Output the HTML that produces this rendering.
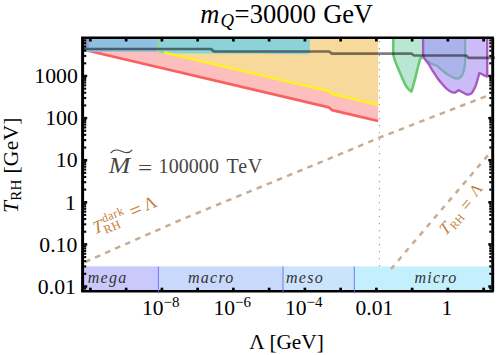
<!DOCTYPE html>
<html><head><meta charset="utf-8"><style>html,body{margin:0;padding:0;background:#fff}svg{display:block}</style></head><body><svg width="498" height="355" viewBox="0 0 498 355">
<rect width="498" height="355" fill="#fff"/>
<defs><clipPath id="c"><rect x="82.60" y="37.75" width="410.00" height="253.55"/></clipPath></defs>
<g clip-path="url(#c)">
<polygon points="85.0,50.0 329.0,107.4 332.0,110.1 378.1,121.0 378.1,39 85,39" fill="#fdbebe"/>
<polygon points="158.5,39 158.5,52 164.0,52.4 329.0,91.3 332.0,94.0 378.1,105.0 378.1,39" fill="#f6d99b"/>
<path d="M158.5,38 L158.5,52.6 L165,53.2 L250,53.8 L307.5,54.2 Q309.9,54.2 309.9,51.8 L309.9,38 Z" fill="#8dd2d6"/>
<path d="M158.5,38 L158.5,48.5 Q158.7,51.8 164.5,52.6" fill="none" stroke="#8dd6a2" stroke-width="2.4"/>
<polyline points="85.0,50.0 329.0,107.4 332.0,110.1 378.1,121.0" fill="none" stroke="#fb6060" stroke-width="2.7" stroke-linejoin="round"/>
<polyline points="164.0,52.4 329.0,91.3 332.0,94.0 378.1,105.0" fill="none" stroke="#fff02a" stroke-width="2.6" stroke-linejoin="round"/>
<rect x="84" y="39" width="73.4" height="12.8" fill="#8fc0e0"/>
<rect x="85" y="39" width="3.8" height="9.5" fill="#9c9cc4"/>
<path d="M393.3,38 L393.3,54.5 C393.47,55.17 393.82,56.95 394.30,58.50 C394.78,60.05 395.47,61.92 396.20,63.80 C396.93,65.68 397.30,66.55 398.70,69.80 C400.10,73.05 402.95,80.05 404.60,83.30 C406.25,86.55 407.47,87.92 408.60,89.30 C409.73,90.68 410.93,91.22 411.40,91.60 C411.67,90.72 412.30,88.80 413.00,86.30 C413.70,83.80 414.47,81.00 415.60,76.60 C416.73,72.20 418.87,63.07 419.80,59.90 C420.73,56.73 420.63,57.88 421.20,57.60 C421.77,57.32 422.87,58.10 423.20,58.20 L423.2,38 Z" fill="#b9e7d4"/>
<path d="M423.1,38 L423.1,55 C423.33,55.58 423.65,57.10 424.50,58.50 C425.35,59.90 426.88,61.42 428.20,63.40 C429.52,65.38 431.22,68.53 432.40,70.40 C433.58,72.27 434.32,73.13 435.30,74.60 C436.28,76.07 437.12,77.60 438.30,79.20 C439.48,80.80 441.12,82.70 442.40,84.20 C443.68,85.70 444.72,87.02 446.00,88.20 C447.28,89.38 448.85,90.57 450.10,91.30 C451.35,92.03 452.52,92.47 453.50,92.60 C454.48,92.73 455.15,92.50 456.00,92.10 C456.85,91.70 457.83,90.35 458.60,90.20 C459.37,90.05 459.87,90.82 460.60,91.20 C461.33,91.58 462.10,92.00 463.00,92.50 C463.90,93.00 465.07,93.85 466.00,94.20 C466.93,94.55 467.77,94.70 468.60,94.60 C469.43,94.50 470.30,94.10 471.00,93.60 C471.70,93.10 472.02,92.92 472.80,91.60 C473.58,90.28 474.80,88.10 475.70,85.70 C476.60,83.30 477.58,79.32 478.20,77.20 C478.82,75.08 479.20,73.70 479.40,73.00 L486.9,76.6 L487.2,74 L487.2,38 Z" fill="#cbbcf7"/>
<path d="M424.5,58.5 C425.02,58.97 426.48,60.45 427.60,61.30 C428.72,62.15 429.75,62.90 431.20,63.60 C432.65,64.30 434.60,64.47 436.30,65.50 C438.00,66.53 439.55,68.32 441.40,69.80 C443.25,71.28 445.38,73.07 447.40,74.40 C449.42,75.73 451.82,77.08 453.50,77.80 C455.18,78.52 456.38,78.77 457.50,78.70 C458.62,78.63 459.35,78.15 460.20,77.40 C461.05,76.65 461.93,75.60 462.60,74.20 C463.27,72.80 463.80,70.78 464.20,69.00 C464.60,67.22 464.85,65.33 465.00,63.50 C465.15,61.67 465.08,58.92 465.10,58.00 L465.1,38 L423.1,38 L423.1,55 Z" fill="#aab3ea"/>
<path d="M393.3,38 L393.3,54.5 C393.47,55.17 393.82,56.95 394.30,58.50 C394.78,60.05 395.47,61.92 396.20,63.80 C396.93,65.68 397.30,66.55 398.70,69.80 C400.10,73.05 402.95,80.05 404.60,83.30 C406.25,86.55 407.47,87.92 408.60,89.30 C409.73,90.68 410.93,91.22 411.40,91.60 C411.67,90.72 412.30,88.80 413.00,86.30 C413.70,83.80 414.47,81.00 415.60,76.60 C416.73,72.20 418.87,63.07 419.80,59.90 C420.73,56.73 420.63,57.88 421.20,57.60 C421.77,57.32 422.87,58.10 423.20,58.20" fill="none" stroke="#68ca70" stroke-width="2.6" stroke-linejoin="round"/>
<path d="M424.5,58.5 C425.02,58.97 426.48,60.45 427.60,61.30 C428.72,62.15 429.75,62.90 431.20,63.60 C432.65,64.30 434.60,64.47 436.30,65.50 C438.00,66.53 439.55,68.32 441.40,69.80 C443.25,71.28 445.38,73.07 447.40,74.40 C449.42,75.73 451.82,77.08 453.50,77.80 C455.18,78.52 456.38,78.77 457.50,78.70 C458.62,78.63 459.35,78.15 460.20,77.40 C461.05,76.65 461.93,75.60 462.60,74.20 C463.27,72.80 463.80,70.78 464.20,69.00 C464.60,67.22 464.85,65.33 465.00,63.50 C465.15,61.67 465.08,58.92 465.10,58.00 L465.1,38" fill="none" stroke="#80a9b8" stroke-width="2.3" stroke-linejoin="round"/>
<path d="M423.1,38 L423.1,55 C423.33,55.58 423.65,57.10 424.50,58.50 C425.35,59.90 426.88,61.42 428.20,63.40 C429.52,65.38 431.22,68.53 432.40,70.40 C433.58,72.27 434.32,73.13 435.30,74.60 C436.28,76.07 437.12,77.60 438.30,79.20 C439.48,80.80 441.12,82.70 442.40,84.20 C443.68,85.70 444.72,87.02 446.00,88.20 C447.28,89.38 448.85,90.57 450.10,91.30 C451.35,92.03 452.52,92.47 453.50,92.60 C454.48,92.73 455.15,92.50 456.00,92.10 C456.85,91.70 457.83,90.35 458.60,90.20 C459.37,90.05 459.87,90.82 460.60,91.20 C461.33,91.58 462.10,92.00 463.00,92.50 C463.90,93.00 465.07,93.85 466.00,94.20 C466.93,94.55 467.77,94.70 468.60,94.60 C469.43,94.50 470.30,94.10 471.00,93.60 C471.70,93.10 472.02,92.92 472.80,91.60 C473.58,90.28 474.80,88.10 475.70,85.70 C476.60,83.30 477.58,79.32 478.20,77.20 C478.82,75.08 479.20,73.70 479.40,73.00 L486.9,76.6 L487.2,74 L487.2,38" fill="none" stroke="#a85ac0" stroke-width="2.4" stroke-linejoin="round"/>
<rect x="84" y="266.4" width="74.4" height="24.6" fill="#c9c9fb"/>
<rect x="158.4" y="266.4" width="124.6" height="24.6" fill="#c9d9fb"/>
<rect x="283" y="266.4" width="71.3" height="24.6" fill="#cbe3fd"/>
<rect x="354.3" y="266.4" width="138" height="24.6" fill="#c4effc"/>
<line x1="379.4" y1="41.1" x2="379.4" y2="266.4" stroke="#707070" stroke-width="0.85" stroke-dasharray="1.1 5.9"/>
<polyline points="85.0,262.0 177.0,221.5 340.0,154.2 380.0,137.4 489.0,95.1 493.0,93.6" fill="none" stroke="#c8ac92" stroke-width="2.5" stroke-dasharray="5.6 5.38"/>
<polyline points="391,269 492.5,149.9" fill="none" stroke="#c8ac92" stroke-width="2.5" stroke-dasharray="5.2 5.9" stroke-dashoffset="0.2"/>
</g>
<polyline points="84.0,49.0 211.0,49.0 214.0,51.5 329.0,51.5 332.0,53.7 411.5,53.7 414.0,55.5 466.0,55.5 468.5,57.8 495.0,57.8" fill="none" stroke="#000" stroke-opacity="0.5" stroke-width="2.7" stroke-linejoin="round"/>
<g stroke="#000" fill="none">
<line x1="81.10" y1="37.75" x2="493.80" y2="37.75" stroke-width="2.6"/>
<line x1="81.10" y1="291.30" x2="493.80" y2="291.30" stroke-width="2.6"/>
<line x1="82.60" y1="37.75" x2="82.60" y2="291.30" stroke-width="3"/>
<line x1="492.70" y1="37.75" x2="492.70" y2="291.30" stroke-width="2.9"/>
<line x1="90.40" y1="290.00" x2="90.40" y2="287.70" stroke-width="2.7"/>
<line x1="90.40" y1="39.00" x2="90.40" y2="41.50" stroke-width="2.7"/>
<line x1="126.15" y1="290.00" x2="126.15" y2="287.70" stroke-width="2.7"/>
<line x1="126.15" y1="39.00" x2="126.15" y2="41.50" stroke-width="2.7"/>
<line x1="161.90" y1="290.00" x2="161.90" y2="287.70" stroke-width="2.7"/>
<line x1="161.90" y1="39.00" x2="161.90" y2="41.50" stroke-width="2.7"/>
<line x1="197.65" y1="290.00" x2="197.65" y2="287.70" stroke-width="2.7"/>
<line x1="197.65" y1="39.00" x2="197.65" y2="41.50" stroke-width="2.7"/>
<line x1="233.40" y1="290.00" x2="233.40" y2="287.70" stroke-width="2.7"/>
<line x1="233.40" y1="39.00" x2="233.40" y2="41.50" stroke-width="2.7"/>
<line x1="269.15" y1="290.00" x2="269.15" y2="287.70" stroke-width="2.7"/>
<line x1="269.15" y1="39.00" x2="269.15" y2="41.50" stroke-width="2.7"/>
<line x1="304.90" y1="290.00" x2="304.90" y2="287.70" stroke-width="2.7"/>
<line x1="304.90" y1="39.00" x2="304.90" y2="41.50" stroke-width="2.7"/>
<line x1="340.65" y1="290.00" x2="340.65" y2="287.70" stroke-width="2.7"/>
<line x1="340.65" y1="39.00" x2="340.65" y2="41.50" stroke-width="2.7"/>
<line x1="376.40" y1="290.00" x2="376.40" y2="287.70" stroke-width="2.7"/>
<line x1="376.40" y1="39.00" x2="376.40" y2="41.50" stroke-width="2.7"/>
<line x1="412.15" y1="290.00" x2="412.15" y2="287.70" stroke-width="2.7"/>
<line x1="412.15" y1="39.00" x2="412.15" y2="41.50" stroke-width="2.7"/>
<line x1="447.90" y1="290.00" x2="447.90" y2="287.70" stroke-width="2.7"/>
<line x1="447.90" y1="39.00" x2="447.90" y2="41.50" stroke-width="2.7"/>
<line x1="483.65" y1="290.00" x2="483.65" y2="287.70" stroke-width="2.7"/>
<line x1="483.65" y1="39.00" x2="483.65" y2="41.50" stroke-width="2.7"/>
<line x1="84.10" y1="286.50" x2="87.20" y2="286.50" stroke-width="2.5"/>
<line x1="491.40" y1="286.50" x2="488.30" y2="286.50" stroke-width="2.5"/>
<line x1="84.10" y1="244.40" x2="87.20" y2="244.40" stroke-width="2.5"/>
<line x1="491.40" y1="244.40" x2="488.30" y2="244.40" stroke-width="2.5"/>
<line x1="84.10" y1="202.30" x2="87.20" y2="202.30" stroke-width="2.5"/>
<line x1="491.40" y1="202.30" x2="488.30" y2="202.30" stroke-width="2.5"/>
<line x1="84.10" y1="160.20" x2="87.20" y2="160.20" stroke-width="2.5"/>
<line x1="491.40" y1="160.20" x2="488.30" y2="160.20" stroke-width="2.5"/>
<line x1="84.10" y1="118.10" x2="87.20" y2="118.10" stroke-width="2.5"/>
<line x1="491.40" y1="118.10" x2="488.30" y2="118.10" stroke-width="2.5"/>
<line x1="84.10" y1="76.00" x2="87.20" y2="76.00" stroke-width="2.5"/>
<line x1="491.40" y1="76.00" x2="488.30" y2="76.00" stroke-width="2.5"/>
<line x1="84.10" y1="288.43" x2="86.20" y2="288.43" stroke-width="2.1"/>
<line x1="491.40" y1="288.43" x2="489.30" y2="288.43" stroke-width="2.1"/>
<line x1="84.10" y1="273.83" x2="86.20" y2="273.83" stroke-width="2.1"/>
<line x1="491.40" y1="273.83" x2="489.30" y2="273.83" stroke-width="2.1"/>
<line x1="84.10" y1="266.41" x2="86.20" y2="266.41" stroke-width="2.1"/>
<line x1="491.40" y1="266.41" x2="489.30" y2="266.41" stroke-width="2.1"/>
<line x1="84.10" y1="261.15" x2="86.20" y2="261.15" stroke-width="2.1"/>
<line x1="491.40" y1="261.15" x2="489.30" y2="261.15" stroke-width="2.1"/>
<line x1="84.10" y1="257.07" x2="86.20" y2="257.07" stroke-width="2.1"/>
<line x1="491.40" y1="257.07" x2="489.30" y2="257.07" stroke-width="2.1"/>
<line x1="84.10" y1="253.74" x2="86.20" y2="253.74" stroke-width="2.1"/>
<line x1="491.40" y1="253.74" x2="489.30" y2="253.74" stroke-width="2.1"/>
<line x1="84.10" y1="250.92" x2="86.20" y2="250.92" stroke-width="2.1"/>
<line x1="491.40" y1="250.92" x2="489.30" y2="250.92" stroke-width="2.1"/>
<line x1="84.10" y1="248.48" x2="86.20" y2="248.48" stroke-width="2.1"/>
<line x1="491.40" y1="248.48" x2="489.30" y2="248.48" stroke-width="2.1"/>
<line x1="84.10" y1="246.33" x2="86.20" y2="246.33" stroke-width="2.1"/>
<line x1="491.40" y1="246.33" x2="489.30" y2="246.33" stroke-width="2.1"/>
<line x1="84.10" y1="231.73" x2="86.20" y2="231.73" stroke-width="2.1"/>
<line x1="491.40" y1="231.73" x2="489.30" y2="231.73" stroke-width="2.1"/>
<line x1="84.10" y1="224.31" x2="86.20" y2="224.31" stroke-width="2.1"/>
<line x1="491.40" y1="224.31" x2="489.30" y2="224.31" stroke-width="2.1"/>
<line x1="84.10" y1="219.05" x2="86.20" y2="219.05" stroke-width="2.1"/>
<line x1="491.40" y1="219.05" x2="489.30" y2="219.05" stroke-width="2.1"/>
<line x1="84.10" y1="214.97" x2="86.20" y2="214.97" stroke-width="2.1"/>
<line x1="491.40" y1="214.97" x2="489.30" y2="214.97" stroke-width="2.1"/>
<line x1="84.10" y1="211.64" x2="86.20" y2="211.64" stroke-width="2.1"/>
<line x1="491.40" y1="211.64" x2="489.30" y2="211.64" stroke-width="2.1"/>
<line x1="84.10" y1="208.82" x2="86.20" y2="208.82" stroke-width="2.1"/>
<line x1="491.40" y1="208.82" x2="489.30" y2="208.82" stroke-width="2.1"/>
<line x1="84.10" y1="206.38" x2="86.20" y2="206.38" stroke-width="2.1"/>
<line x1="491.40" y1="206.38" x2="489.30" y2="206.38" stroke-width="2.1"/>
<line x1="84.10" y1="204.23" x2="86.20" y2="204.23" stroke-width="2.1"/>
<line x1="491.40" y1="204.23" x2="489.30" y2="204.23" stroke-width="2.1"/>
<line x1="84.10" y1="189.63" x2="86.20" y2="189.63" stroke-width="2.1"/>
<line x1="491.40" y1="189.63" x2="489.30" y2="189.63" stroke-width="2.1"/>
<line x1="84.10" y1="182.21" x2="86.20" y2="182.21" stroke-width="2.1"/>
<line x1="491.40" y1="182.21" x2="489.30" y2="182.21" stroke-width="2.1"/>
<line x1="84.10" y1="176.95" x2="86.20" y2="176.95" stroke-width="2.1"/>
<line x1="491.40" y1="176.95" x2="489.30" y2="176.95" stroke-width="2.1"/>
<line x1="84.10" y1="172.87" x2="86.20" y2="172.87" stroke-width="2.1"/>
<line x1="491.40" y1="172.87" x2="489.30" y2="172.87" stroke-width="2.1"/>
<line x1="84.10" y1="169.54" x2="86.20" y2="169.54" stroke-width="2.1"/>
<line x1="491.40" y1="169.54" x2="489.30" y2="169.54" stroke-width="2.1"/>
<line x1="84.10" y1="166.72" x2="86.20" y2="166.72" stroke-width="2.1"/>
<line x1="491.40" y1="166.72" x2="489.30" y2="166.72" stroke-width="2.1"/>
<line x1="84.10" y1="164.28" x2="86.20" y2="164.28" stroke-width="2.1"/>
<line x1="491.40" y1="164.28" x2="489.30" y2="164.28" stroke-width="2.1"/>
<line x1="84.10" y1="162.13" x2="86.20" y2="162.13" stroke-width="2.1"/>
<line x1="491.40" y1="162.13" x2="489.30" y2="162.13" stroke-width="2.1"/>
<line x1="84.10" y1="147.53" x2="86.20" y2="147.53" stroke-width="2.1"/>
<line x1="491.40" y1="147.53" x2="489.30" y2="147.53" stroke-width="2.1"/>
<line x1="84.10" y1="140.11" x2="86.20" y2="140.11" stroke-width="2.1"/>
<line x1="491.40" y1="140.11" x2="489.30" y2="140.11" stroke-width="2.1"/>
<line x1="84.10" y1="134.85" x2="86.20" y2="134.85" stroke-width="2.1"/>
<line x1="491.40" y1="134.85" x2="489.30" y2="134.85" stroke-width="2.1"/>
<line x1="84.10" y1="130.77" x2="86.20" y2="130.77" stroke-width="2.1"/>
<line x1="491.40" y1="130.77" x2="489.30" y2="130.77" stroke-width="2.1"/>
<line x1="84.10" y1="127.44" x2="86.20" y2="127.44" stroke-width="2.1"/>
<line x1="491.40" y1="127.44" x2="489.30" y2="127.44" stroke-width="2.1"/>
<line x1="84.10" y1="124.62" x2="86.20" y2="124.62" stroke-width="2.1"/>
<line x1="491.40" y1="124.62" x2="489.30" y2="124.62" stroke-width="2.1"/>
<line x1="84.10" y1="122.18" x2="86.20" y2="122.18" stroke-width="2.1"/>
<line x1="491.40" y1="122.18" x2="489.30" y2="122.18" stroke-width="2.1"/>
<line x1="84.10" y1="120.03" x2="86.20" y2="120.03" stroke-width="2.1"/>
<line x1="491.40" y1="120.03" x2="489.30" y2="120.03" stroke-width="2.1"/>
<line x1="84.10" y1="105.43" x2="86.20" y2="105.43" stroke-width="2.1"/>
<line x1="491.40" y1="105.43" x2="489.30" y2="105.43" stroke-width="2.1"/>
<line x1="84.10" y1="98.01" x2="86.20" y2="98.01" stroke-width="2.1"/>
<line x1="491.40" y1="98.01" x2="489.30" y2="98.01" stroke-width="2.1"/>
<line x1="84.10" y1="92.75" x2="86.20" y2="92.75" stroke-width="2.1"/>
<line x1="491.40" y1="92.75" x2="489.30" y2="92.75" stroke-width="2.1"/>
<line x1="84.10" y1="88.67" x2="86.20" y2="88.67" stroke-width="2.1"/>
<line x1="491.40" y1="88.67" x2="489.30" y2="88.67" stroke-width="2.1"/>
<line x1="84.10" y1="85.34" x2="86.20" y2="85.34" stroke-width="2.1"/>
<line x1="491.40" y1="85.34" x2="489.30" y2="85.34" stroke-width="2.1"/>
<line x1="84.10" y1="82.52" x2="86.20" y2="82.52" stroke-width="2.1"/>
<line x1="491.40" y1="82.52" x2="489.30" y2="82.52" stroke-width="2.1"/>
<line x1="84.10" y1="80.08" x2="86.20" y2="80.08" stroke-width="2.1"/>
<line x1="491.40" y1="80.08" x2="489.30" y2="80.08" stroke-width="2.1"/>
<line x1="84.10" y1="77.93" x2="86.20" y2="77.93" stroke-width="2.1"/>
<line x1="491.40" y1="77.93" x2="489.30" y2="77.93" stroke-width="2.1"/>
<line x1="84.10" y1="63.33" x2="86.20" y2="63.33" stroke-width="2.1"/>
<line x1="491.40" y1="63.33" x2="489.30" y2="63.33" stroke-width="2.1"/>
<line x1="84.10" y1="55.91" x2="86.20" y2="55.91" stroke-width="2.1"/>
<line x1="491.40" y1="55.91" x2="489.30" y2="55.91" stroke-width="2.1"/>
<line x1="84.10" y1="50.65" x2="86.20" y2="50.65" stroke-width="2.1"/>
<line x1="491.40" y1="50.65" x2="489.30" y2="50.65" stroke-width="2.1"/>
<line x1="84.10" y1="46.57" x2="86.20" y2="46.57" stroke-width="2.1"/>
<line x1="491.40" y1="46.57" x2="489.30" y2="46.57" stroke-width="2.1"/>
<line x1="84.10" y1="43.24" x2="86.20" y2="43.24" stroke-width="2.1"/>
<line x1="491.40" y1="43.24" x2="489.30" y2="43.24" stroke-width="2.1"/>
<line x1="84.10" y1="40.42" x2="86.20" y2="40.42" stroke-width="2.1"/>
<line x1="491.40" y1="40.42" x2="489.30" y2="40.42" stroke-width="2.1"/>
</g>
<line x1="158.4" y1="266.4" x2="158.4" y2="293.3" stroke="#6b6bf0" stroke-width="0.9"/>
<line x1="283.0" y1="266.4" x2="283.0" y2="293.3" stroke="#6b6bf0" stroke-width="0.9"/>
<line x1="354.3" y1="266.4" x2="354.3" y2="293.3" stroke="#6b6bf0" stroke-width="0.9"/>
<g font-family="'Liberation Serif', serif" fill="#000">
<text x="200.3" y="22.6" font-size="26.5" font-style="italic">m</text>
<text x="220.5" y="27.2" font-size="18.8" font-style="italic">Q</text>
<text x="234.4" y="22.6" font-size="26.5" textLength="15" lengthAdjust="spacingAndGlyphs">=</text>
<text x="249.8" y="22.6" font-size="26.5" letter-spacing="0">30000</text>
<text x="323.3" y="22.6" font-size="26.5" letter-spacing="-0.2">GeV</text>
<text x="77.9" y="83.2" font-size="21.8" text-anchor="end">1000</text>
<text x="77.9" y="125.3" font-size="21.8" text-anchor="end">100</text>
<text x="77.6" y="167.4" font-size="21.8" text-anchor="end">10</text>
<text x="76.0" y="209.5" font-size="21.8" text-anchor="end">1</text>
<text x="77.4" y="251.6" font-size="21.8" text-anchor="end">0.10</text>
<text x="76.0" y="293.7" font-size="21.8" text-anchor="end">0.01</text>
<text x="160.7" y="314.8" font-size="21.6" text-anchor="middle">10<tspan font-size="15" dy="-7.9">−8</tspan></text>
<text x="232.2" y="314.8" font-size="21.6" text-anchor="middle">10<tspan font-size="15" dy="-7.9">−6</tspan></text>
<text x="303.7" y="314.8" font-size="21.6" text-anchor="middle">10<tspan font-size="15" dy="-7.9">−4</tspan></text>
<text x="374.4" y="314.8" font-size="21.6" text-anchor="middle">0.01</text>
<text x="446.9" y="314.8" font-size="21.6" text-anchor="middle">1</text>
<text x="249.2" y="348.5" font-size="21.3">Λ [GeV]</text>
<text transform="translate(17.7,213) rotate(-90)" font-size="21.5" letter-spacing="0.3"><tspan font-style="italic">T</tspan><tspan font-size="15" dy="3.5">RH</tspan><tspan dy="-3.5"> [GeV]</tspan></text>
<g font-style="italic" font-size="16" fill="#333" letter-spacing="1.25">
<text x="87.8" y="283.2">mega</text>
<text x="188" y="283.2">macro</text>
<text x="286" y="283.2">meso</text>
<text x="414.5" y="283.2">micro</text>
</g>
<g transform="translate(0,172.6) scale(1,1.09)" fill="#454545">
<text x="108.8" y="0" font-size="20.5" font-style="italic" textLength="21.5" lengthAdjust="spacingAndGlyphs">M</text>
<text x="138" y="2" font-size="20" textLength="14.2" lengthAdjust="spacingAndGlyphs">=</text>
<text x="158.6" y="0" font-size="20" textLength="60.3" lengthAdjust="spacing">100000</text>
<text x="226.6" y="0" font-size="20" textLength="35.6" lengthAdjust="spacing">TeV</text>
</g>
<path d="M110.6,153.2 C113.5,149.3 118,149.6 121.5,151.3 C125,153 129,153.8 132.2,149.8" fill="none" stroke="#454545" stroke-width="1.1"/>
<g transform="translate(92.8,233.8) rotate(-22.7)" fill="#c2813a">
<text transform="translate(1.6,1.3) skewX(-8)" font-size="17.8" font-style="italic">T</text>
<text x="14.1" y="-6" font-size="12" letter-spacing="0.5">dark</text>
<text x="11.8" y="5.1" font-size="12" letter-spacing="0.4">RH</text>
<text x="42.6" y="1.6" font-size="21">=</text>
<text x="58.2" y="-0.4" font-size="17.6">Λ</text>
</g>
<g transform="translate(446.4,228.1) rotate(-49.7)" fill="#c2813a">
<text transform="translate(-6.6,4.9) skewX(-8)" font-size="16.8" font-style="italic">T</text>
<text x="3.8" y="7.9" font-size="11.4" letter-spacing="0.3">RH</text>
<text x="25.9" y="5.7" font-size="18">=</text>
<text x="42.6" y="2.8" font-size="16">Λ</text>
</g>
</g>
</svg></body></html>
